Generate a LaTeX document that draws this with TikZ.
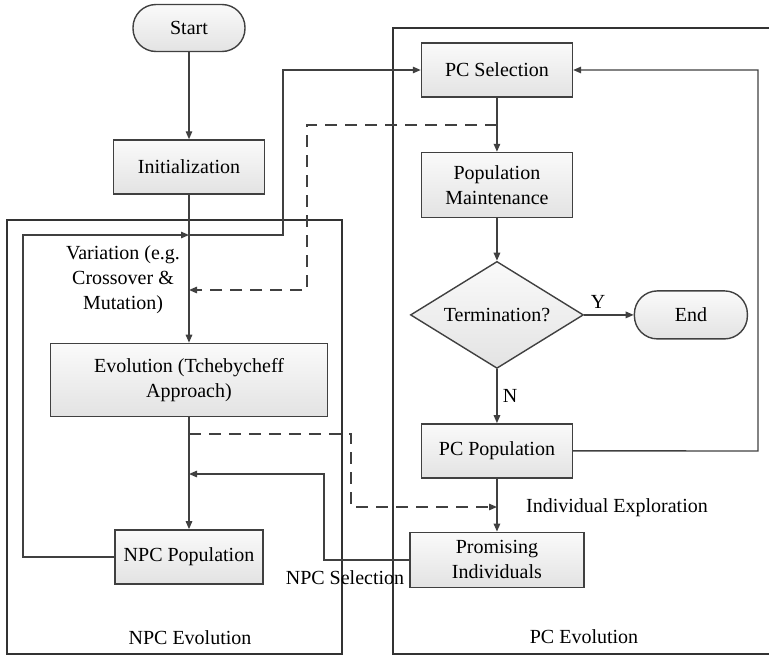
\documentclass[tikz,border=0pt]{standalone}
\usepackage{fontspec}
\setmainfont{Liberation Serif}
\usetikzlibrary{arrows.meta,shapes.geometric}

\begin{document}
\begin{tikzpicture}[
x=1pt, y=1pt,
font=\fontsize{20}{25}\selectfont,
line width=1.4pt,
box/.style={rectangle, draw=black!75, top color=gray!4, bottom color=gray!22, minimum width=151pt, minimum height=54pt, align=center, inner sep=2pt},
pill/.style={rectangle, rounded corners=23pt, draw=black!75, top color=gray!4, bottom color=gray!22, minimum width=112pt, minimum height=47pt},
decision/.style={diamond, aspect=1.62, draw=black!75, top color=gray!4, bottom color=gray!22, minimum width=173pt, minimum height=107pt, inner sep=0pt},
frame/.style={draw=black!80, line width=1.4pt},
arr/.style={draw=black!75, -{Triangle[length=8pt,width=6.5pt]}},
dasharr/.style={arr, dash pattern=on 12pt off 8pt}
]
\useasboundingbox (0,0) rectangle (769,-656);
%Frames
\draw[frame] (7,-220) rectangle (342,-654);
\draw[frame] (393,-28) rectangle (775,-654);
\node (npclabel) at (190,-638) {NPC Evolution};
\node (pclabel)  at (584,-637) {PC Evolution};
%Nodes
\node[pill]      (start)   at (189,-28)                          {Start};
\node[box]       (init)    [below of =start, yshift= -110.5pt]    {Initialization};
\node[box, minimum width=277pt, minimum height=73pt]
                 (evo)     [below of =init, yshift= -184.5pt]     {Evolution (Tchebycheff\\Approach)};
\node[box, minimum width=148pt]
                 (npc)     [below of =evo, yshift= -148.5pt]      {NPC Population};
\node[box]       (pcsel)   [right of =start, xshift= 279.5pt, yshift= -42pt] {PC Selection};
\node[box, minimum height=65pt]
                 (popm)    [below of =pcsel, yshift= -86.5pt]     {Population\\Maintenance};
\node[decision]  (term)    [below of =popm, yshift= -101.5pt]     {Termination?};
\node[pill, minimum width=113pt, minimum height=48pt]
                 (end)     [right of =term, xshift= 165.5pt]      {End};
\node[box]       (pcpop)   [below of =term, yshift= -107.5pt]     {PC Population};
\node[box, minimum width=174pt, minimum height=55pt]
                 (prom)    [below of =pcpop, yshift= -80.5pt]     {Promising\\Individuals};
\node[align=center] (var)  at (123,-280) {Variation (e.g.\\Crossover \&\\Mutation)};
%Junctions
\coordinate (jtop)   at (189,-235);
\coordinate (jvar)   at (189,-290);
\coordinate (jevo)   at (189,-434);
\coordinate (jsel)   at (189,-474);
\coordinate (loopl)  at (23,-235);
\coordinate (turna)  at (283,-235);
\coordinate (dsplit) at (497,-125);
\coordinate (dturn)  at (307,-125);
\coordinate (eturn)  at (351,-434);
\coordinate (jexp)   at (497,-507);
\coordinate (sturn)  at (324,-474);
\coordinate (rloop)  at (758,-451);
%Lines
\draw[arr] (start) -- (init);
\draw[arr] (init) -- (evo);
\draw[arr] (evo) -- (npc);
\draw[arr] (npc.west) -| (loopl) -- (jtop);
\draw[arr] (jtop) -- (turna) |- (pcsel.west);
\draw[arr] (pcsel) -- (popm);
\draw[dasharr] (dsplit) -- (dturn) |- (jvar);
\draw[arr] (popm) -- (term);
\draw[arr] (term) -- (end) node [pos=0.28, above, yshift=2pt] {Y};
\draw[arr] (term) -- (pcpop) node [midway, right, xshift=2pt] {N};
\draw[arr] (pcpop) -- (prom);
\draw[arr] (pcpop.east) -- (rloop) |- (pcsel.east);
\draw[dasharr] (jevo) -- (eturn) |- (jexp);
\draw[arr] (prom.west) -| (sturn) -- (jsel);
\node (explore) at (617,-508) {Individual Exploration};
\node (npcsel)  at (345,-578) {NPC Selection};
\end{tikzpicture}
\end{document}
